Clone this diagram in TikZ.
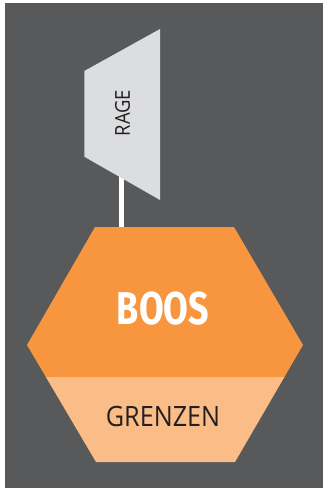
\documentclass[tikz,border=0pt]{standalone}
\usepackage{fontspec}
\setmainfont{Open Sans}
\newfontfamily\boosfont{Fira Sans}
\usetikzlibrary{positioning,calc}

\definecolor{slate}{HTML}{58595B}
\definecolor{boosorange}{HTML}{F7963F}
\definecolor{boospale}{HTML}{FBBD87}
\definecolor{flaggrey}{HTML}{DCDDDF}
\definecolor{inkdark}{HTML}{231F20}

\begin{document}
\begin{tikzpicture}[
    x=1pt, y=-1pt,
    pole/.style={draw=white, line width=5pt},
    label/.style={inner sep=0pt, text=inkdark, font=#1}
]
\useasboundingbox (0,0) rectangle (323,488);
\fill[white] (0,0) rectangle (323,488);
\fill[slate] (5,3) rectangle (323,488);

% flag on its pole
\coordinate (flagfoot) at (121.8,170);
\coordinate (hextop) at (121.8,228);
\draw[pole] (flagfoot) -- (hextop);
\fill[flaggrey] (84.3,71) -- (160,29) -- (160,200) -- (84.3,156.7) -- cycle;
\node[label=\fontsize{20.5}{20.5}\selectfont, rotate=90] (rage) at (122.5,113) {\scalebox{0.9}[1]{RAGE}};

% hexagon with lower band
\begin{scope}
  \clip (95,227) -- (234,227) -- (303,345) -- (235,462) -- (96,462) -- (27,345) -- cycle;
  \fill[boosorange] (20,220) rectangle (310,377);
  \fill[boospale] (20,377) rectangle (310,470);
\end{scope}
\node[label=\boosfont\bfseries\fontsize{46}{46}\selectfont, text=white] (boos) at (163,309) {\scalebox{0.78}[1]{BOOS}};
\node[label=\fontsize{28}{28}\selectfont] (grenzen) at (163,416.5) {\scalebox{0.9}[1]{GRENZEN}};
\end{tikzpicture}
\end{document}
